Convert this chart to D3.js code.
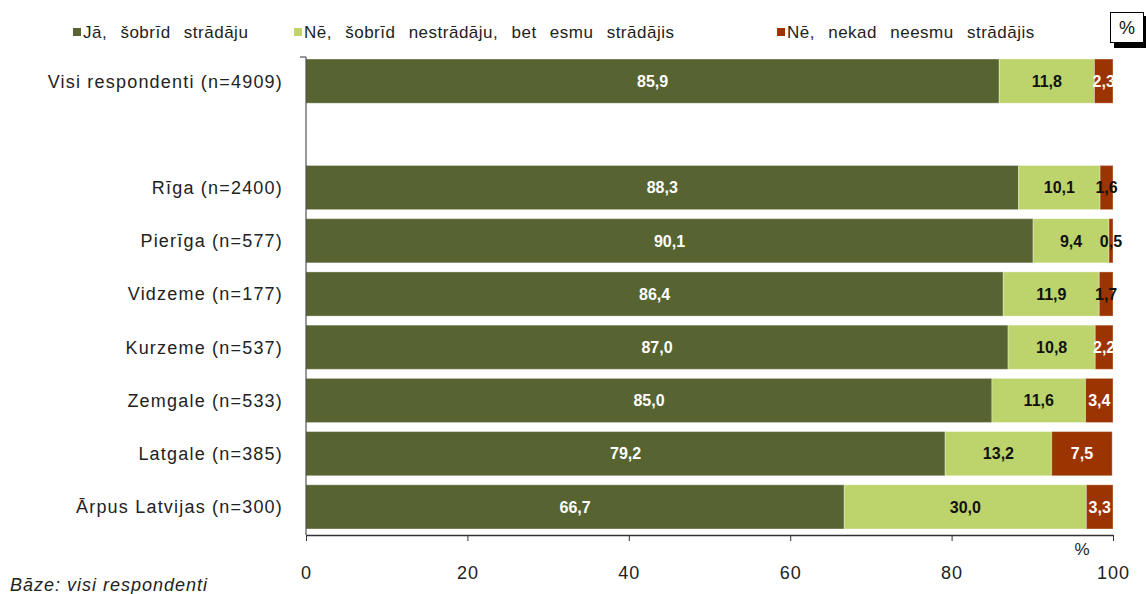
<!DOCTYPE html>
<html>
<head>
<meta charset="utf-8">
<script src="https://cdn.jsdelivr.net/npm/d3@7"></script>
<style>
  body { margin: 0; background: #fff; font-family: "Liberation Sans", Arial, sans-serif; }
</style>
</head>
<body>
<div id="chart"></div>
<script>
// ---- data
var categories = ["Visi respondenti (n=4909)", "Rīga (n=2400)", "Pierīga (n=577)", "Vidzeme (n=177)",
    "Kurzeme (n=537)", "Zemgale (n=533)", "Latgale (n=385)", "Ārpus Latvijas (n=300)"];
var seriesNames = ["Jā, šobrīd strādāju", "Nē, šobrīd nestrādāju, bet esmu strādājis", "Nē, nekad neesmu strādājis"];
var working = [85.9, 88.3, 90.1, 86.4, 87.0, 85.0, 79.2, 66.7];
var notNow = [11.8, 10.1, 9.4, 11.9, 10.8, 11.6, 13.2, 30.0];
var never = [2.3, 1.6, 0.5, 1.7, 2.2, 3.4, 7.5, 3.3];
var xTicks = [0, 20, 40, 60, 80, 100];

var colors = ["#576331", "#bdd36b", "#9b3400"];
var labelColors = ["#fff", "#111", null];

var svgWidth = 1146, svgHeight = 594;
var svg = d3.select("#chart").append("svg")
    .attr("width", svgWidth).attr("height", svgHeight);

// spacer slot after the first row
var slots = [categories[0], "__gap"].concat(categories.slice(1));

var x = d3.scaleLinear().domain([0, 100]).range([306, 1113]);
var y = d3.scaleBand().domain(slots).range([54.5, 533.5]).paddingInner(0.17).paddingOuter(0.085);

var rows = categories.map(function(c, i) {
    var vals = [working[i], notNow[i], never[i]];
    var start = 0;
    return vals.map(function(v, k) {
        var seg = { cat: c, k: k, v: v, x0: start, x1: start + v };
        start += v;
        return seg;
    });
});
var segs = [].concat.apply([], rows);

// bars
svg.selectAll("rect.bar")
    .data(segs)
    .enter().append("rect")
    .attr("class", "bar")
    .attr("x", function(d) { return x(d.x0); })
    .attr("y", function(d) { return y(d.cat); })
    .attr("width", function(d) { return x(d.x1) - x(d.x0); })
    .attr("height", y.bandwidth())
    .attr("fill", function(d) { return colors[d.k]; })
    .attr("stroke", "rgba(255,255,255,0.35)")
    .attr("stroke-width", 1);

// value labels
svg.selectAll("text.val")
    .data(segs)
    .enter().append("text")
    .attr("class", "val")
    .attr("x", function(d) { return (x(d.x0) + x(d.x1)) / 2; })
    .attr("y", function(d) { return y(d.cat) + y.bandwidth() / 2; })
    .attr("dy", "0.36em")
    .attr("text-anchor", "middle")
    .style("font-size", "16px")
    .style("font-weight", "bold")
    .attr("fill", function(d) {
        if (d.k < 2) return labelColors[d.k];
        return d.v >= 2 ? "#fff" : "#111";
    })
    .text(function(d) { return d3.format(".1f")(d.v).replace(".", ","); });

// category labels
svg.selectAll("text.cat")
    .data(categories)
    .enter().append("text")
    .attr("class", "cat")
    .attr("x", 283)
    .attr("y", function(d) { return y(d) + y.bandwidth() / 2; })
    .attr("dy", "0.36em")
    .attr("text-anchor", "end")
    .style("font-size", "18px")
    .style("letter-spacing", "1.2px")
    .attr("fill", "#222")
    .text(function(d) { return d; });

// y axis line
svg.append("path")
    .attr("d", "M300," + 57 + "H306V535")
    .attr("fill", "none").attr("stroke", "#333").attr("stroke-width", 1);

// x axis
var xAxis = svg.append("g")
    .attr("transform", "translate(0,535)")
    .call(d3.axisBottom(x).tickValues(xTicks).tickSize(6).tickSizeOuter(0).tickPadding(25));
xAxis.select(".domain").attr("stroke", "#333").attr("stroke-width", 1.5);
xAxis.selectAll(".tick line").attr("stroke", "#333");
xAxis.selectAll("text")
    .style("font-size", "18px")
    .style("letter-spacing", "1px")
    .style("font-family", "Liberation Sans, Arial, sans-serif")
    .attr("fill", "#222");

svg.append("text")
    .attr("x", 1082).attr("y", 555)
    .attr("text-anchor", "middle")
    .style("font-size", "17px")
    .attr("fill", "#222")
    .text("%");

// legend
var legendX = [73, 294, 777];
var legend = svg.selectAll("g.leg")
    .data(seriesNames)
    .enter().append("g")
    .attr("class", "leg")
    .attr("transform", function(d, i) { return "translate(" + legendX[i] + ",32)"; });
legend.append("rect")
    .attr("x", 0).attr("y", -4)
    .attr("width", 8).attr("height", 8)
    .attr("fill", function(d, i) { return colors[i]; });
legend.append("text")
    .attr("x", 10).attr("y", 0)
    .attr("dy", "0.36em")
    .style("font-size", "17px")
    .style("letter-spacing", "0.5px")
    .style("word-spacing", "8px")
    .attr("fill", "#222")
    .text(function(d) { return d; });

// "%" box
svg.append("rect")
    .attr("x", 1114).attr("y", 16).attr("width", 34).attr("height", 32)
    .attr("fill", "#000");
svg.append("rect")
    .attr("x", 1110.5).attr("y", 12.5).attr("width", 33).attr("height", 30)
    .attr("fill", "#fff").attr("stroke", "#000");
svg.append("text")
    .attr("x", 1127).attr("y", 28)
    .attr("dy", "0.36em")
    .attr("text-anchor", "middle")
    .style("font-size", "18px")
    .attr("fill", "#111")
    .text("%");

// base note
svg.append("text")
    .attr("x", 10).attr("y", 591)
    .style("font-size", "18px")
    .style("letter-spacing", "1px")
    .style("font-style", "italic")
    .attr("fill", "#222")
    .text("Bāze: visi respondenti");
</script>
</body>
</html>
